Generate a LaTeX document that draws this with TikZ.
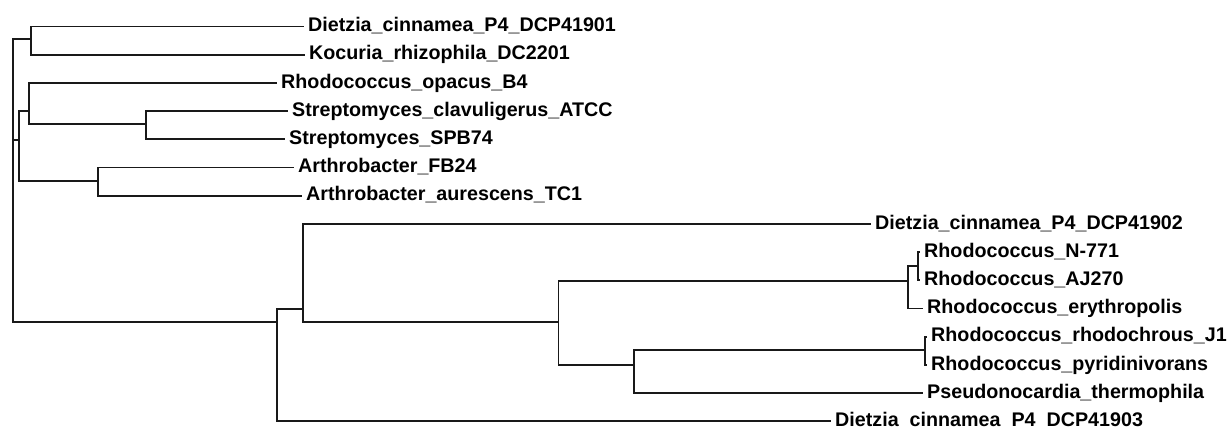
\documentclass[tikz,border=0pt]{standalone}
\usepackage{fontspec}
\setmainfont{Liberation Sans}

\begin{document}
\begin{tikzpicture}[x=1pt,y=-1pt,font=\bfseries\fontsize{19.7}{22}\selectfont,
    leaf/.style={anchor=west,inner xsep=5pt,inner ysep=0pt,text height=14.4pt,text depth=4.1pt},
    branch/.style={line width=1.8pt,black!90,line cap=rect}]
    \useasboundingbox (0,0) rectangle (1228,429);
    \node[leaf] (dc01) at (303,26.5) {Dietzia\_cinnamea\_P4\_DCP41901};
    \node[leaf] (kr) at (304,54.7) {Kocuria\_rhizophila\_DC2201};
    \node[leaf] (ro) at (276,82.9) {Rhodococcus\_opacus\_B4};
    \node[leaf] (sc) at (287,111.1) {Streptomyces\_clavuligerus\_ATCC};
    \node[leaf] (ss) at (284,139.3) {Streptomyces\_SPB74};
    \node[leaf] (af) at (293,167.5) {Arthrobacter\_FB24};
    \node[leaf] (aa) at (301,195.7) {Arthrobacter\_aurescens\_TC1};
    \node[leaf] (dc02) at (870,223.9) {Dietzia\_cinnamea\_P4\_DCP41902};
    \node[leaf] (rn) at (919,252.1) {Rhodococcus\_N-771};
    \node[leaf] (raj) at (919,280.3) {Rhodococcus\_AJ270};
    \node[leaf] (re) at (922,308.5) {Rhodococcus\_erythropolis};
    \node[leaf] (rr) at (926,336.7) {Rhodococcus\_rhodochrous\_J1};
    \node[leaf] (rp) at (926,364.9) {Rhodococcus\_pyridinivorans};
    \node[leaf] (pt) at (922,393.1) {Pseudonocardia\_thermophila};
    \node[leaf] (dc03) at (830,421.3) {Dietzia \hspace{.28em}cinnamea \hspace{.28em}P4 \hspace{.28em}DCP41903};
    \coordinate (root) at (12.7,39);
    \coordinate (nA) at (31,39);
    \coordinate (nB) at (19.3,140);
    \coordinate (nC) at (277,322);
    \coordinate (nD) at (29.3,111);
    \coordinate (nE) at (98,181);
    \coordinate (nF) at (146,124);
    \coordinate (nG) at (303,309);
    \coordinate (nH) at (558.5,322);
    \coordinate (nI) at (908,281);
    \coordinate (nK) at (918,266);
    \coordinate (nJ) at (634,365);
    \coordinate (nL) at (925,350);
    \foreach \a/\b in {root/nA,root/nB,root/nC,nA/dc01,nA/kr,nB/nD,nB/nE,nD/ro,nD/nF,nF/sc,nF/ss,nE/af,nE/aa,
        nC/nG,nC/dc03,nG/dc02,nG/nH,nH/nI,nH/nJ,nI/nK,nI/re,nK/rn,nK/raj,nJ/nL,nJ/pt,nL/rr,nL/rp}{\draw[branch] (\a) |- (\b);}
  \end{tikzpicture}
\end{document}
